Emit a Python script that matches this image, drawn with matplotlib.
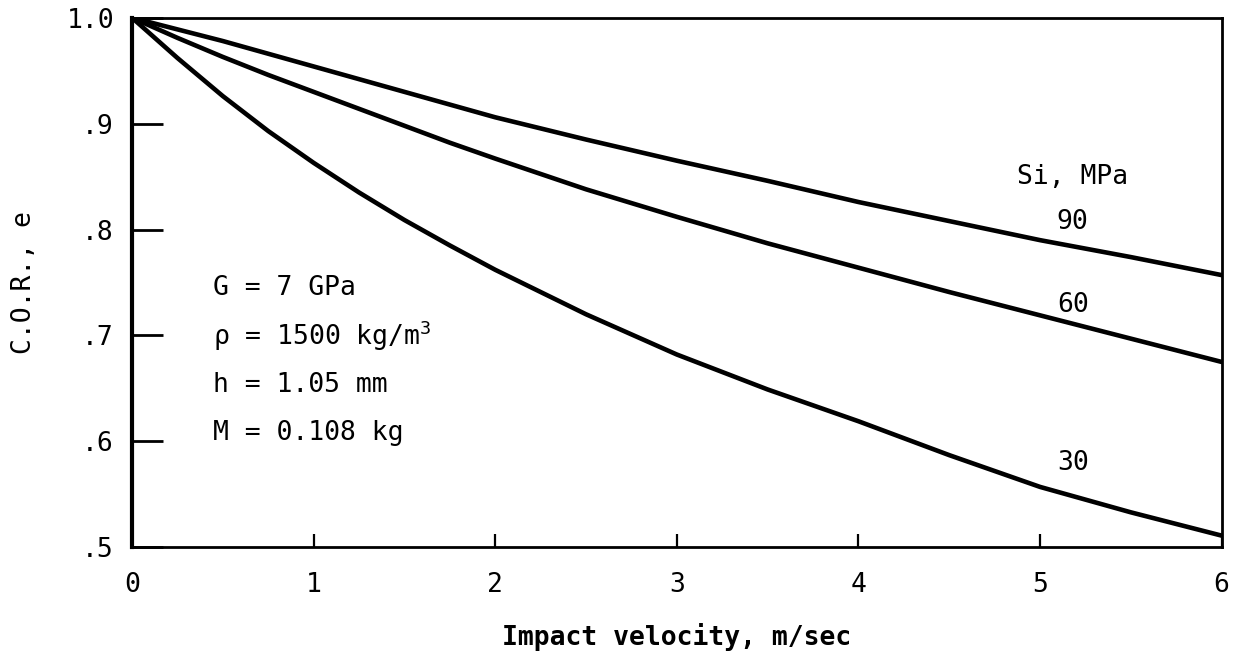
import matplotlib
matplotlib.use("Agg")
import matplotlib.pyplot as plt

plt.rcParams['font.family'] = ['DejaVu Sans Mono', 'DejaVu Sans']
plt.rcParams['mathtext.fontset'] = 'custom'
plt.rcParams['mathtext.rm'] = 'DejaVu Sans Mono'
plt.rcParams['mathtext.default'] = 'regular'

# impact velocity, m/sec
velocity = [0, 0.25, 0.5, 0.75, 1, 1.25, 1.5, 1.75, 2, 2.5, 3, 3.5, 4, 4.5, 5, 5.5, 6]

# coefficient of restitution for each Si value (MPa)
cor_90 = [1.0, 0.989, 0.978, 0.966, 0.954, 0.942, 0.930, 0.918, 0.906, 0.885, 0.865, 0.846, 0.826, 0.808, 0.790, 0.774, 0.757]
cor_60 = [1.0, 0.981, 0.963, 0.946, 0.930, 0.914, 0.898, 0.882, 0.867, 0.838, 0.812, 0.787, 0.764, 0.741, 0.719, 0.697, 0.675]
cor_30 = [1.0, 0.962, 0.926, 0.893, 0.863, 0.835, 0.809, 0.785, 0.762, 0.720, 0.682, 0.649, 0.619, 0.587, 0.557, 0.533, 0.511]

curves = [("90", cor_90, 0.807), ("60", cor_60, 0.729), ("30", cor_30, 0.580)]

params = ["G = 7 GPa", "ρ = 1500 kg/m$^3$", "h = 1.05 mm", "M = 0.108 kg"]
param_y = [0.745, 0.700, 0.653, 0.608]

fig = plt.figure(figsize=(12.34, 6.57), dpi=100)
ax = fig.add_axes([0.107, 0.167, 0.883, 0.806])

for name, vals, ly in curves:
    ax.plot(velocity, vals, color='black', linewidth=3.3,
            solid_capstyle='round', solid_joinstyle='round')
    ax.text(5.18, ly, name, fontsize=19, ha='center', va='center')

ax.text(5.18, 0.850, "Si, MPa", fontsize=19, ha='center', va='center')

for txt, y in zip(params, param_y):
    ax.text(0.446, y, txt, fontsize=19, ha='left', va='center')

ax.set_xlim(0, 6)
ax.set_ylim(0.5, 1.0)
ax.set_xticks([0, 1, 2, 3, 4, 5, 6])
ax.set_xticklabels(["0", "1", "2", "3", "4", "5", "6"])
ax.set_yticks([0.5, 0.6, 0.7, 0.8, 0.9, 1.0])
ax.set_yticklabels([".5", ".6", ".7", ".8", ".9", "1.0"])

ax.tick_params(axis='x', direction='in', length=9.5, width=1.6, pad=18, labelsize=19)
ax.tick_params(axis='y', direction='in', length=22, width=2, pad=13, labelsize=19)

for side in ['top', 'right', 'bottom']:
    ax.spines[side].set_linewidth(2)
ax.spines['left'].set_linewidth(3)

ax.set_xlabel("Impact velocity, m/sec", fontsize=19, fontweight='bold', labelpad=18)
ax.set_ylabel("C.O.R., e", fontsize=19)
ax.yaxis.set_label_coords(-0.087, 0.5)

fig.savefig("out.png", dpi=100)
